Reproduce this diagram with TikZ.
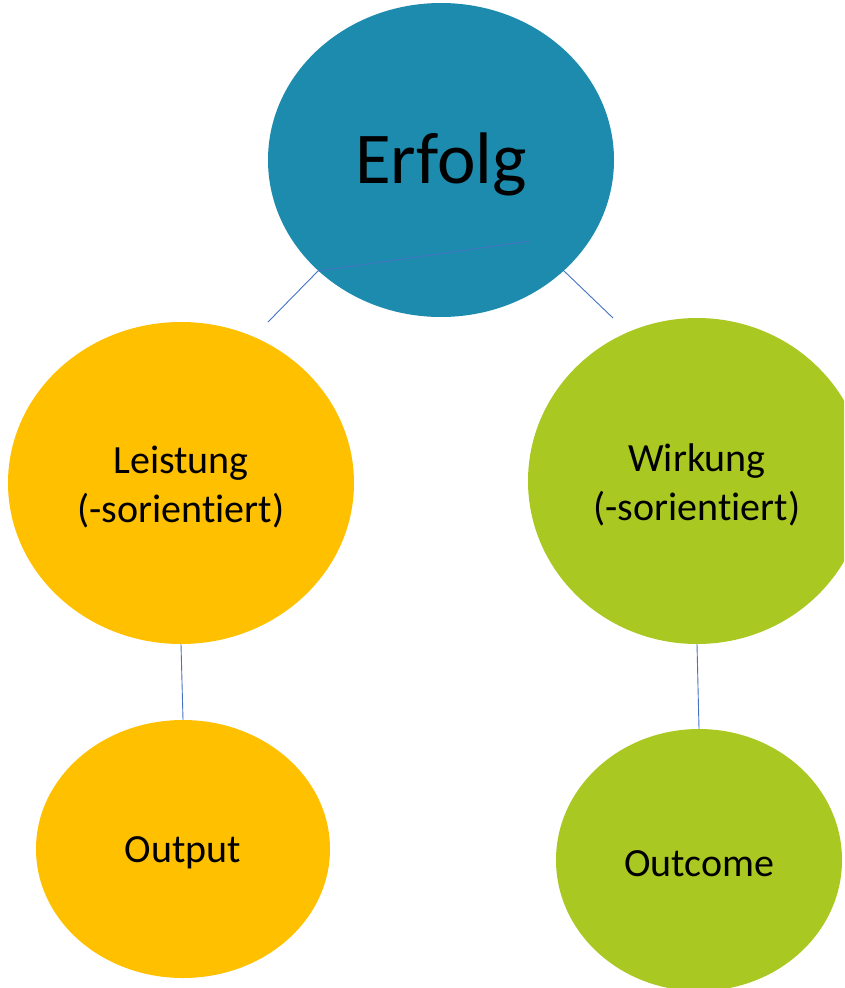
\documentclass[tikz,border=0pt]{standalone}
\usepackage{fontspec}
\setmainfont[Ligatures=NoCommon]{Carlito}
\usetikzlibrary{shapes.geometric}
\definecolor{erTeal}{RGB}{29,139,173}
\definecolor{erYellow}{RGB}{255,192,0}
\definecolor{erGreen}{RGB}{169,200,33}
\definecolor{erLine}{RGB}{68,114,196}

\begin{document}
\begin{tikzpicture}[x=1pt, y=-1pt,
  bubble/.style={ellipse, inner sep=0pt},
  caption/.style={align=center, text=black, yshift=-4pt, font=\fontsize{40}{49}\selectfont},
  link/.style={erLine, line width=0.9pt}]
  \clip (0,0) rectangle (844,988);
  \useasboundingbox (0,0) rectangle (844,988);

  % Top
  \node[bubble, fill=erTeal, minimum width=346pt, minimum height=314pt,
        label={[caption, font=\fontsize{73}{80}\selectfont]center:Erfolg}] (erfolg) at (441,160) {};

  % Second level
  \node[bubble, fill=erYellow, minimum width=346pt, minimum height=322pt,
        label={[caption]center:Leistung\\(-sorientiert)}] (leistung) at (181,483) {};
  \node[bubble, fill=erGreen, minimum width=338pt, minimum height=326pt,
        label={[caption]center:Wirkung\\(-sorientiert)}] (wirkung) at (697,481) {};

  % Bottom
  \node[bubble, fill=erYellow, minimum width=294pt, minimum height=258pt,
        label={[caption]center:Output}] (output) at (183,849) {};
  \node[bubble, fill=erGreen, minimum width=286pt, minimum height=262pt,
        label={[caption]center:Outcome}] (outcome) at (699,860) {};

  % Connectors
  \coordinate (inL) at (530,241);
  \coordinate (bendL) at (318,271);
  \coordinate (endL) at (268,322);
  \coordinate (startR) at (563,270);
  \coordinate (endR) at (613,318);
  \draw[link] (inL) -- (bendL) -- (endL);
  \draw[link] (startR) -- (endR);
  \draw[link] (leistung.south) -- (output.north);
  \draw[link] (wirkung.south) -- (outcome.north);
\end{tikzpicture}
\end{document}
